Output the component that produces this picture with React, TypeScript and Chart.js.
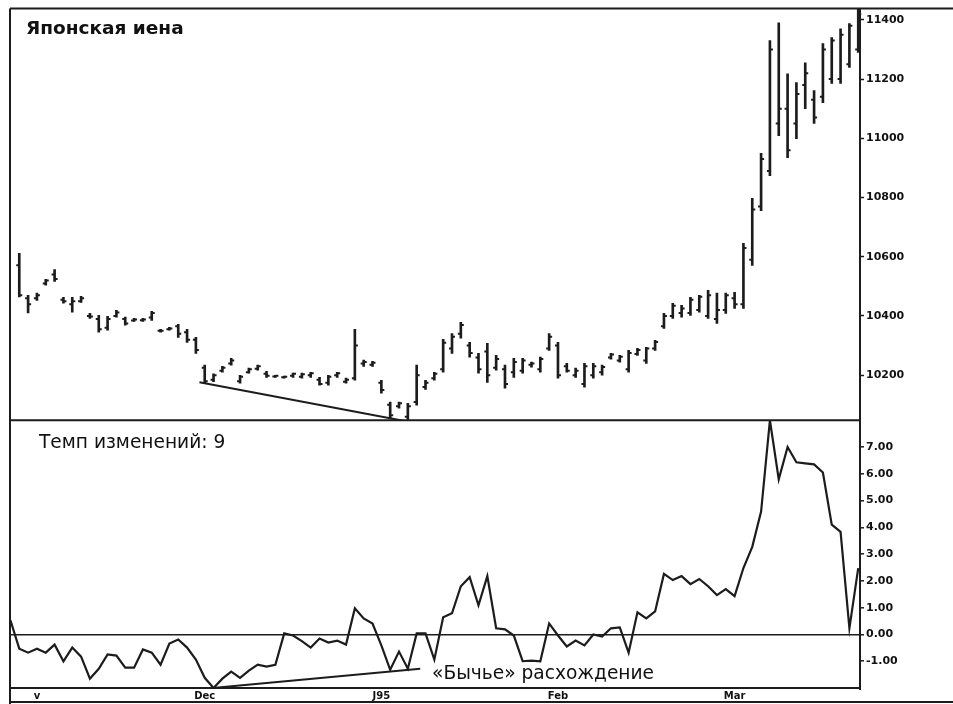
import React, { useEffect, useRef } from 'react';
import { Chart, registerables } from 'chart.js';

Chart.register(...registerables);

// ---- Data ----
const priceHigh = [
  10612, 10470, 10477, 10524, 10557, 10463, 10463, 10466, 10409, 10402,
  10399, 10419, 10396, 10392, 10392, 10416, 10355, 10362, 10372, 10355,
  10328, 10234, 10205, 10230, 10257, 10200, 10224, 10234, 10213, 10200,
  10197, 10207, 10207, 10210, 10193, 10200, 10210, 10190, 10355, 10251,
  10247, 10183, 10109, 10109, 10105, 10234, 10183, 10210, 10321, 10341,
  10379, 10311, 10274, 10308, 10267, 10234, 10257, 10257, 10244, 10261,
  10341, 10311, 10240, 10224, 10240, 10240, 10234, 10274, 10267, 10284,
  10291, 10294, 10318, 10409, 10443, 10436, 10463, 10470, 10487, 10477,
  10477, 10480, 10645, 10797, 10949, 11330, 11390, 11218, 11188, 11255,
  11161, 11320, 11340, 11370, 11387, 11437,
];
const priceLow = [
  10464, 10410, 10453, 10504, 10517, 10443, 10413, 10446, 10392, 10345,
  10352, 10396, 10369, 10382, 10382, 10385, 10345, 10352, 10328, 10311,
  10274, 10173, 10178, 10210, 10234, 10173, 10207, 10217, 10193, 10193,
  10190, 10193, 10190, 10193, 10166, 10166, 10193, 10173, 10183, 10230,
  10230, 10139, 10055, 10089, 10041, 10099, 10152, 10183, 10210, 10274,
  10325, 10261, 10207, 10176, 10217, 10156, 10193, 10207, 10227, 10210,
  10284, 10190, 10210, 10193, 10160, 10190, 10200, 10254, 10244, 10210,
  10267, 10240, 10284, 10358, 10392, 10396, 10402, 10413, 10392, 10375,
  10409, 10426, 10426, 10571, 10756, 10874, 11009, 10935, 10999, 11100,
  11050, 11120, 11185, 11185, 11239, 11290,
];
const priceOpen = [
  10571, 10460, 10460, 10510, 10540, 10455, 10440, 10450, 10400, 10390,
  10360, 10400, 10390, 10385, 10386, 10395, 10350, 10355, 10365, 10345,
  10320, 10225, 10185, 10215, 10240, 10180, 10210, 10222, 10205, 10196,
  10193, 10198, 10195, 10200, 10185, 10175, 10200, 10178, 10190, 10240,
  10235, 10175, 10100, 10095, 10060, 10110, 10160, 10190, 10220, 10290,
  10340, 10300, 10260, 10280, 10225, 10220, 10210, 10215, 10235, 10220,
  10290, 10300, 10230, 10200, 10170, 10200, 10210, 10260, 10250, 10220,
  10272, 10250, 10290, 10365, 10400, 10410, 10410, 10420, 10400, 10390,
  10420, 10460, 10440, 10590, 10770, 10890, 11050, 11100, 11050, 11180,
  11130, 11140, 11200, 11200, 11250, 11300,
];
const priceClose = [
  10470, 10440, 10470, 10520, 10525, 10450, 10450, 10460, 10398, 10355,
  10390, 10412, 10375, 10388, 10388, 10410, 10350, 10358, 10340, 10320,
  10285, 10180, 10200, 10225, 10250, 10195, 10220, 10230, 10198, 10198,
  10195, 10205, 10203, 10207, 10170, 10195, 10207, 10185, 10300, 10245,
  10242, 10150, 10065, 10105, 10095, 10200, 10175, 10205, 10310, 10330,
  10370, 10275, 10220, 10200, 10255, 10170, 10245, 10250, 10240, 10255,
  10330, 10200, 10215, 10215, 10230, 10230, 10228, 10270, 10262, 10275,
  10285, 10290, 10312, 10400, 10435, 10425, 10455, 10465, 10470, 10420,
  10470, 10440, 10630, 10760, 10930, 11300, 11100, 10960, 11150, 11220,
  11070, 11300, 11330, 11350, 11380, 11420,
];
// Rate of change (9), first value belongs to the day before the first bar
const momentumFirstIndex = -1;
const momentum = [
  0.53,
  -0.53, -0.68, -0.53, -0.68, -0.38, -1.0, -0.49, -0.83, -1.65, -1.28,
  -0.75, -0.79, -1.24, -1.24, -0.56, -0.68, -1.13, -0.34, -0.19, -0.49,
  -0.94, -1.62, -2.0, -1.65, -1.39, -1.62, -1.35, -1.13, -1.2, -1.13,
  0.04, -0.04, -0.25, -0.49, -0.15, -0.3, -0.23, -0.38, 0.98, 0.6,
  0.41, -0.41, -1.32, -0.64, -1.28, 0.04, 0.04, -0.94, 0.64, 0.79,
  1.8, 2.14, 1.09, 2.18, 0.23, 0.19, -0.04, -1.0, -0.98, -1.0,
  0.41, -0.04, -0.45, -0.23, -0.41, 0.0, -0.08, 0.23, 0.26, -0.68,
  0.83, 0.6, 0.86, 2.26, 2.03, 2.18, 1.88, 2.07, 1.8, 1.47,
  1.69, 1.43, 2.48, 3.27, 4.59, 8.0, 5.79, 7.0, 6.43, 6.39,
  6.35, 6.05, 4.1, 3.83, 0.23, 2.48,
];
const xTickValues = [2, 21, 41, 61, 81];
const xTickLabels = ['v', 'Dec', 'J95', 'Feb', 'Mar'];
const priceTicks = [10200, 10400, 10600, 10800, 11000, 11200, 11400];
const momentumTicks = [-1, 0, 1, 2, 3, 4, 5, 6, 7];
const priceTrendX = [20.4, 44.6];
const priceTrendY = [10176, 10040];
const momentumTrendX = [21.9, 45.4];
const momentumTrendY = [-2.0, -1.28];

const titlePrice = 'Японская иена';
const titleMomentum = 'Темп изменений: 9';
const noteDivergence = '«Бычье» расхождение';

const INK = '#1c1c1c';

const framePlugin = {
  id: 'frame',
  beforeDraw(chart: any) {
    const { ctx, width, height } = chart;
    ctx.save();
    ctx.fillStyle = '#ffffff';
    ctx.fillRect(0, 0, width, height);
    ctx.restore();
  },
  afterDraw(chart: any) {
    const { ctx, width, height, chartArea } = chart;
    const yP = chart.scales.yPrice;
    ctx.save();
    ctx.strokeStyle = INK;
    ctx.lineWidth = 2;
    ctx.beginPath();
    ctx.moveTo(chartArea.left, chartArea.top);
    ctx.lineTo(width, chartArea.top);
    ctx.moveTo(chartArea.left, chartArea.top);
    ctx.lineTo(chartArea.left, height);
    ctx.moveTo(chartArea.left, yP.bottom);
    ctx.lineTo(chartArea.right, yP.bottom);
    ctx.moveTo(chartArea.left, chartArea.bottom);
    ctx.lineTo(chartArea.right, chartArea.bottom);
    ctx.moveTo(chartArea.left, height - 2);
    ctx.lineTo(width, height - 2);
    ctx.moveTo(chartArea.right, chartArea.top);
    ctx.lineTo(chartArea.right, chartArea.bottom + 2);
    ctx.stroke();

    ctx.fillStyle = '#111';
    ctx.textBaseline = 'alphabetic';
    ctx.textAlign = 'left';
    ctx.font = 'bold 18.5px "DejaVu Sans"';
    ctx.fillText(titlePrice, 26, 34);
    ctx.font = '18.6px "DejaVu Sans"';
    ctx.fillText(titleMomentum, 39, 448);
    ctx.fillText(noteDivergence, 432, 679);
    ctx.restore();
  },
};

const ohlcTicksPlugin = {
  id: 'ohlcTicks',
  afterDatasetsDraw(chart: any) {
    const { ctx } = chart;
    const xs = chart.scales.x;
    const ys = chart.scales.yPrice;
    ctx.save();
    ctx.strokeStyle = INK;
    ctx.lineWidth = 2;
    ctx.beginPath();
    for (let i = 0; i < priceHigh.length; i++) {
      const x = xs.getPixelForValue(i);
      const yo = ys.getPixelForValue(priceOpen[i]);
      const yc = ys.getPixelForValue(priceClose[i]);
      ctx.moveTo(x - 3, yo);
      ctx.lineTo(x, yo);
      ctx.moveTo(x, yc);
      ctx.lineTo(x + 3, yc);
    }
    ctx.stroke();
    ctx.restore();
  },
};

export default function App() {
  const ref = useRef<HTMLCanvasElement | null>(null);

  useEffect(() => {
    if (!ref.current) return;
    const bars = priceHigh.map((h, i) => ({ x: i, y: [priceLow[i], h] }));
    const mom = momentum.map((v, i) => ({ x: i + momentumFirstIndex, y: v }));
    const pTrend = priceTrendX.map((x, i) => ({ x, y: priceTrendY[i] }));
    const mTrend = momentumTrendX.map((x, i) => ({ x, y: momentumTrendY[i] }));

    const chart = new Chart(ref.current, {
      type: 'bar',
      data: {
        datasets: [
          {
            type: 'bar',
            data: bars as any,
            yAxisID: 'yPrice',
            backgroundColor: INK,
            borderWidth: 0,
            barThickness: 2,
          } as any,
          {
            type: 'line',
            data: pTrend as any,
            yAxisID: 'yPrice',
            borderColor: INK,
            borderWidth: 2,
            pointRadius: 0,
            tension: 0,
          } as any,
          {
            type: 'line',
            data: mom as any,
            yAxisID: 'yMom',
            borderColor: INK,
            borderWidth: 2.2,
            pointRadius: 0,
            tension: 0,
          } as any,
          {
            type: 'line',
            data: mTrend as any,
            yAxisID: 'yMom',
            borderColor: INK,
            borderWidth: 2,
            pointRadius: 0,
            tension: 0,
          } as any,
        ],
      },
      options: {
        responsive: false,
        animation: false,
        events: [],
        layout: { padding: { left: 10, top: 8, right: 0, bottom: 0 } },
        plugins: {
          legend: { display: false },
          tooltip: { enabled: false },
          title: { display: false },
        },
        scales: {
          x: {
            type: 'linear',
            min: -1.05,
            max: 95.2,
            offset: false,
            grid: { display: false, drawTicks: false },
            border: { display: false },
            afterBuildTicks: (scale: any) => {
              scale.ticks = xTickValues.map((v) => ({ value: v }));
            },
            afterFit: (scale: any) => {
              scale.height = 16;
            },
            ticks: {
              autoSkip: false,
              maxRotation: 0,
              padding: 2,
              color: '#111',
              font: { family: 'DejaVu Sans', size: 10, weight: 'bold' },
              callback: (_v: any, idx: number) => xTickLabels[idx],
            },
          },
          yPrice: {
            type: 'linear',
            position: 'right',
            stack: 'panels',
            stackWeight: 412,
            min: 10048,
            max: 11438,
            grid: { drawOnChartArea: false, tickLength: 4, tickColor: INK, tickWidth: 1.5 },
            border: { display: true, color: INK, width: 2 },
            afterBuildTicks: (scale: any) => {
              scale.ticks = priceTicks.map((v) => ({ value: v }));
            },
            afterFit: (scale: any) => {
              scale.width = 93;
            },
            ticks: {
              padding: 2,
              color: '#111',
              font: { family: 'DejaVu Sans', size: 11, weight: 'bold' },
              callback: (v: any) => String(v),
            },
          },
          yMom: {
            type: 'linear',
            position: 'right',
            stack: 'panels',
            stackWeight: 268,
            min: -2,
            max: 8,
            grid: {
              drawOnChartArea: true,
              color: (c: any) => (c.tick && c.tick.value === 0 ? INK : 'rgba(0,0,0,0)'),
              lineWidth: 1.6,
              tickLength: 4,
              tickColor: INK,
              tickWidth: 1.5,
            },
            border: { display: true, color: INK, width: 2 },
            afterBuildTicks: (scale: any) => {
              scale.ticks = momentumTicks.map((v) => ({ value: v }));
            },
            afterFit: (scale: any) => {
              scale.width = 93;
            },
            ticks: {
              padding: 2,
              color: '#111',
              font: { family: 'DejaVu Sans', size: 11, weight: 'bold' },
              callback: (v: any) => Number(v).toFixed(2),
            },
          },
        } as any,
      },
      plugins: [framePlugin, ohlcTicksPlugin],
    });
    return () => chart.destroy();
  }, []);

  return (
    <div style={{ position: 'fixed', left: 0, top: 0, width: 953, height: 704, background: '#fff' }}>
      <canvas ref={ref} width={953} height={704} style={{ display: 'block' }} />
    </div>
  );
}
